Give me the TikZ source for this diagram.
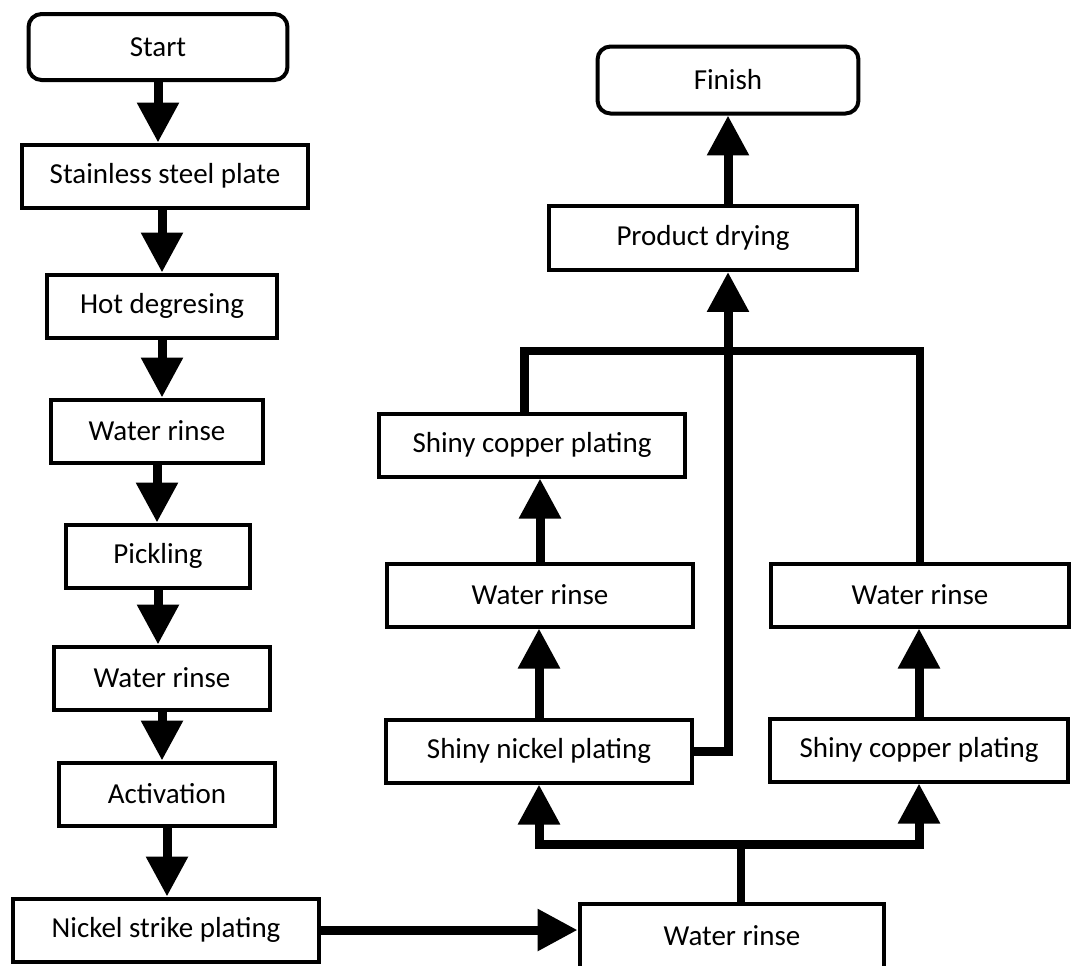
\documentclass[tikz,border=0pt]{standalone}
\usepackage{fontspec}
\setmainfont{Carlito}
\usetikzlibrary{arrows.meta}
\begin{document}
\begin{tikzpicture}[
      x=0.02cm, y=-0.02cm,
      box/.style={draw, line width=0.08cm, inner sep=0pt, minimum height=1.26cm,
        font=\fontsize{16.5}{20}\selectfont},
      term/.style={box, rounded corners=0.26cm},
      flow/.style={line width=0.18cm, -{Triangle[width=0.8cm,length=0.8cm]}},
      link/.style={line width=0.17cm},
    ]
    \useasboundingbox (0,0) rectangle (1074,965);
    % left column
    \node[term, minimum width=5.18cm, minimum height=1.32cm] (start) at (158,47) {Start};
    \node[box, minimum width=5.72cm] (plate) at (165,176) {Stainless steel plate};
    \node[box, minimum width=4.6cm] (degrease) at (162,306) {Hot degresing};
    \node[box, minimum width=4.26cm] (rinseA) at (157,431) {Water rinse};
    \node[box, minimum width=3.7cm] (pickle) at (158,556) {Pickling};
    \node[box, minimum width=4.34cm] (rinseB) at (162,678) {Water rinse};
    \node[box, minimum width=4.34cm] (activ) at (167,794) {Activation};
    \node[box, minimum width=6.14cm] (strike) at (166,930) {Nickel strike plating};
    % right side
    \node[term, minimum width=5.22cm, minimum height=1.34cm] (finish) at (728,80) {Finish};
    \node[box, minimum width=6.16cm, minimum height=1.28cm] (dry) at (703,238) {Product drying};
    \node[box, minimum width=6.14cm] (copperA) at (532,445) {Shiny copper plating};
    \node[box, minimum width=6.12cm] (rinseC) at (540,595) {Water rinse};
    \node[box, minimum width=6.14cm] (nickel) at (539,751) {Shiny nickel plating};
    \node[box, minimum width=5.96cm] (rinseD) at (920,595) {Water rinse};
    \node[box, minimum width=5.98cm] (copperB) at (919,750) {Shiny copper plating};
    \node[box, minimum width=6.1cm, minimum height=1.28cm] (rinseE) at (732,936) {Water rinse};
    \coordinate (split) at (741,844);
    \coordinate (top) at (727,351);

    \draw[flow] (start.south) -- (start.south |- plate.north);
    \draw[flow] (degrease.north |- plate.south) -- (degrease.north);
    \draw[flow] (degrease.south) -- (degrease.south |- rinseA.north);
    \draw[flow] (rinseA.south) -- (rinseA.south |- pickle.north);
    \draw[flow] (pickle.south) -- (pickle.south |- rinseB.north);
    \draw[flow] (rinseB.south) -- (rinseB.south |- activ.north);
    \draw[flow] (activ.south) -- (activ.south |- strike.north);
    \draw[flow] (strike.east) -- (strike.east -| rinseE.west);

    \draw[link] (rinseE.north -| split) -- (split);
    \draw[flow] (split) -| (nickel.south);
    \draw[flow] (split) -| (copperB.south);
    \draw[flow] (nickel.north) -- (nickel.north |- rinseC.south);
    \draw[flow] (rinseC.north) -- (rinseC.north |- copperA.south);
    \draw[flow] (copperB.north) -- (copperB.north |- rinseD.south);
    \draw[link] ([xshift=-0.15cm]copperA.north) |- (top) -| (rinseD.north);
    \draw[flow] (nickel.east) -| (dry.south -| finish.south);
    \draw[flow] (dry.north -| finish.south) -- (finish.south);
\end{tikzpicture}
\end{document}
